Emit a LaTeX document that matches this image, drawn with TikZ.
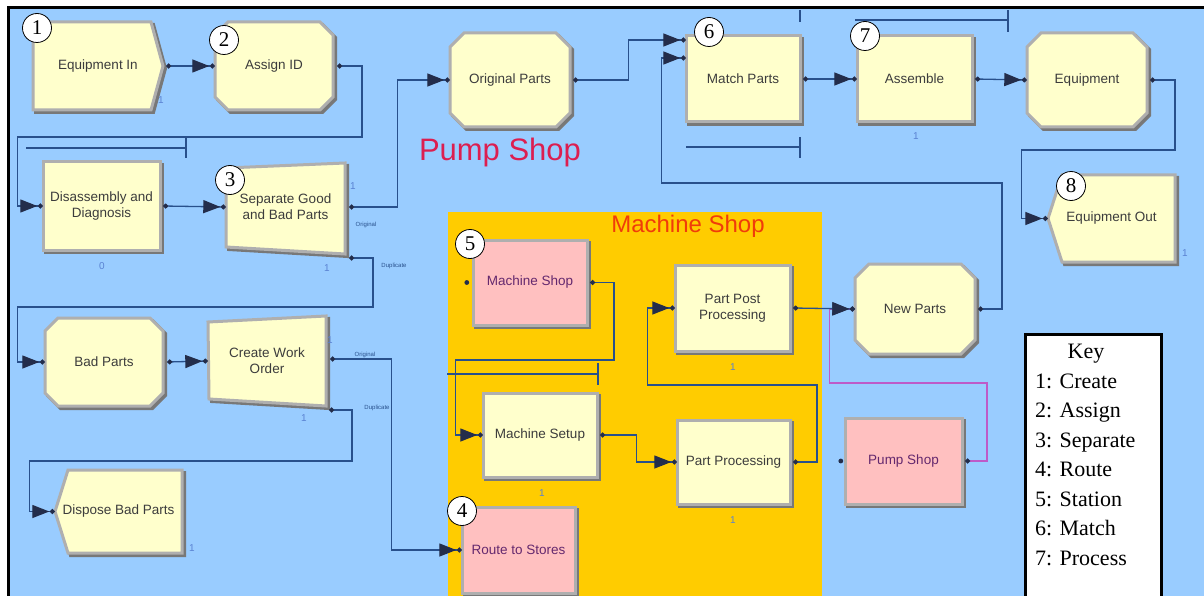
\documentclass[tikz,border=0pt]{standalone}
\usepackage{fontspec}
\setmainfont{Liberation Serif}
\newfontfamily\arena{Liberation Sans}
\usetikzlibrary{arrows.meta,calc}
\definecolor{bgblue}{RGB}{153,204,255}
\definecolor{modyel}{RGB}{255,255,204}
\definecolor{stpink}{RGB}{255,192,192}
\definecolor{bevel}{RGB}{175,175,175}
\definecolor{shdw}{RGB}{120,120,120}
\definecolor{lncol}{RGB}{40,80,140}
\definecolor{arrcol}{RGB}{35,45,75}
\definecolor{txtgray}{RGB}{60,60,60}
\definecolor{txtpurple}{RGB}{100,40,110}
\definecolor{purpline}{RGB}{190,90,200}
\definecolor{msorange}{RGB}{255,204,0}
\definecolor{pumpred}{RGB}{220,30,80}
\definecolor{msred}{RGB}{240,60,10}
\definecolor{cntblue}{RGB}{90,130,210}
\newcommand\Mpoly[2]{\path[shd] #2; \path[#1] #2;}
\begin{document}
\begin{tikzpicture}[x=1pt,y=-1pt,
  shd/.style={fill=shdw, draw=shdw, line width=3pt, line join=miter, shift={(2.5,2.5)}},
  modshape/.style={fill=modyel, draw=bevel, line width=3pt, line join=miter},
  stshape/.style={modshape, fill=stpink},
  mtext/.style={inner sep=0, align=center, text=txtgray, font=\arena\fontsize{13.5}{16}\selectfont},
  sttext/.style={mtext, text=txtpurple},
  conn/.style={draw=lncol, line width=1.3pt,
    arrows={{Circle[length=5pt,color=arrcol]}-{Triangle[length=17pt,width=13pt,color=arrcol,sep=0.5pt] Circle[length=5pt,color=arrcol]}}},
  pconn/.style={conn, draw=purpline},
  queue/.style={draw=lncol, line width=1.3pt},
  numc/.style={circle, draw=black, fill=white, line width=0.8pt, minimum size=29, inner sep=0, font=\fontsize{21}{21}\selectfont},
  cnt/.style={inner sep=0, text=cntblue, font=\arena\fontsize{10}{10}\selectfont},
  tiny/.style={inner sep=0, text=lncol, font=\arena\fontsize{6}{6}\selectfont},
  keyt/.style={inner sep=0, anchor=base west, font=\fontsize{22}{22}\selectfont}]
\clip (0,0) rectangle (1204,596);
\fill[white] (0,0) rectangle (1204,596);
\fill[bgblue] (8,8) rectangle (1204,596);
\draw[black, line width=3pt] (8,600) -- (8,8) -- (1210,8);
% machine shop area
\fill[msorange] (448,212) rectangle (822,600);
\node[inner sep=0, text=pumpred, font=\arena\fontsize{31}{31}\selectfont] (ptitle) at (500,152) {Pump Shop};
\node[inner sep=0, text=msred, font=\arena\fontsize{24}{24}\selectfont] (mtitle) at (688,226) {Machine Shop};
% queue lines
\draw[queue] (26,148) -- (186,148) (186,137) -- (186,158);
\draw[queue] (686,147) -- (800,147) (800,137) -- (800,158);
\draw[queue] (855,20) -- (1008,20) (1008,10) -- (1008,32) (800,10) -- (800,22);
\draw[queue] (447,374) -- (598,374) (598,363) -- (598,385);
% modules
\Mpoly{modshape}{(33,22) -- (151,22) -- (163,66) -- (151,110) -- (33,110) -- cycle}
\node[mtext, minimum width=130, minimum height=88] (eqin) at (98,66) {Equipment In};
\Mpoly{modshape}{(228,22) -- (320,22) -- (333,35) -- (333,97) -- (320,110) -- (228,110) -- (215,97) -- (215,35) -- cycle}
\node[mtext, minimum width=118, minimum height=88] (assign) at (274,66) {Assign ID};
\Mpoly{modshape}{(43,162) rectangle (160,250)}
\node[mtext, minimum width=117, minimum height=88] (disasm) at (101.5,206) {Disassembly and\\Diagnosis};
\Mpoly{modshape}{(226,168) -- (345,163) -- (345,254) -- (226,247) -- cycle}
\node[mtext, minimum width=119, minimum height=86] (sep) at (285.5,207) {Separate Good\\and Bad Parts};
\Mpoly{modshape}{(464,33) -- (556,33) -- (570,47) -- (570,113) -- (556,127) -- (464,127) -- (450,113) -- (450,47) -- cycle}
\node[mtext, minimum width=120, minimum height=94] (orig) at (510,80) {Original Parts};
\Mpoly{modshape}{(686,36) rectangle (800,122)}
\node[mtext, minimum width=114, minimum height=86] (match) at (743,79) {Match Parts};
\Mpoly{modshape}{(857,36) rectangle (972,122)}
\node[mtext, minimum width=115, minimum height=86] (assemble) at (914.5,79) {Assemble};
\Mpoly{modshape}{(1041,33) -- (1133,33) -- (1147,47) -- (1147,113) -- (1133,127) -- (1041,127) -- (1027,113) -- (1027,47) -- cycle}
\node[mtext, minimum width=120, minimum height=94] (equip) at (1087,80) {Equipment};
\Mpoly{modshape}{(1048,218.5) -- (1062,175) -- (1175,175) -- (1175,262) -- (1062,262) -- cycle}
\node[mtext, minimum width=127, minimum height=87] (eqout) at (1111.5,218.5) {Equipment Out};
\Mpoly{modshape}{(58,318) -- (150,318) -- (163,331) -- (163,393) -- (150,406) -- (58,406) -- (45,393) -- (45,331) -- cycle}
\node[mtext, minimum width=118, minimum height=88] (bad) at (104,362) {Bad Parts};
\Mpoly{modshape}{(208,322) -- (326,316) -- (326,406) -- (209,399) -- cycle}
\node[mtext, minimum width=118, minimum height=84] (cwo) at (267,361) {Create Work\\Order};
\Mpoly{modshape}{(55,511.5) -- (68,470) -- (182,470) -- (182,553) -- (68,553) -- cycle}
\node[mtext, minimum width=127, minimum height=83] (dbad) at (118.5,511.5) {Dispose Bad Parts};
\Mpoly{stshape}{(473,240) rectangle (587,325)}
\node[sttext, minimum width=114, minimum height=85] (msst) at (530,282.5) {Machine Shop};
\Mpoly{modshape}{(483,393) rectangle (597,477)}
\node[mtext, minimum width=114, minimum height=84] (setup) at (540,435) {Machine Setup};
\Mpoly{modshape}{(675,265) rectangle (790,351)}
\node[mtext, minimum width=115, minimum height=86] (ppp) at (732.5,308) {Part Post\\Processing};
\Mpoly{modshape}{(677,420) rectangle (790,504)}
\node[mtext, minimum width=113, minimum height=84] (pp) at (733.5,462) {Part Processing};
\Mpoly{modshape}{(869,264) -- (961,264) -- (975,278) -- (975,340) -- (961,354) -- (869,354) -- (855,340) -- (855,278) -- cycle}
\node[mtext, minimum width=120, minimum height=90] (newparts) at (915,309) {New Parts};
\Mpoly{stshape}{(845,418) rectangle (962,504)}
\node[sttext, minimum width=117, minimum height=86] (pumpst) at (903.5,461) {Pump Shop};
\Mpoly{stshape}{(462,507) rectangle (575,593)}
\node[sttext, minimum width=113, minimum height=86] (route) at (518.5,550) {Route to Stores};
% entry-only dots
\fill[arrcol] ($(msst.west)+(-6,0)$) circle (2.4);
\fill[arrcol] ($(pumpst.west)+(-4,0)$) circle (2.4);
% connectors
\coordinate (m1) at ($(match.west)+(0,-39)$);
\coordinate (m2) at ($(match.west)+(0,-21)$);
\draw[conn] ($(eqin.east)+(3,0)$) -- (assign.west);
\draw[conn] ($(assign.east)+(4,0)$) -| (362,137) -| ($(disasm.west)+(-25,0)$) -- (disasm.west);
\draw[conn] ($(disasm.east)+(3,0)$) -- (sep.west);
\draw[conn] ($(sep.east)+(4,0)$) -| ($(orig.west)+(-52,0)$) -- (orig.west);
\draw[conn] ($(sep.east)+(4,51)$) -| (373,307) -| ($(bad.west)+(-27,0)$) -- (bad.west);
\draw[conn] ($(bad.east)+(4,0)$) -- (cwo.west);
\draw[conn] ($(cwo.east)+(4,-2)$) -| ($(route.west)+(-70,0)$) -- (route.west);
\draw[conn] ($(cwo.east)+(3,49)$) -| (352,461) -| ($(dbad.west)+(-25,0)$) -- (dbad.west);
\draw[conn] ($(orig.east)+(3,0)$) -| ($(m1)+(-57,0)$) -- (m1);
\draw[conn] ($(newparts.east)+(3,0)$) -| (1002,183) -| ($(m2)+(-24,0)$) -- (m2);
\draw[conn] ($(match.east)+(3,0)$) -- (assemble.west);
\draw[conn] ($(assemble.east)+(3,0)$) -- (equip.west);
\draw[conn] ($(equip.east)+(3,0)$) -| (1175,150) -| ($(eqout.west)+(-26,0)$) -- (eqout.west);
\draw[conn] ($(msst.east)+(3,0)$) -| (614,360) -| ($(setup.west)+(-27,0)$) -- (setup.west);
\draw[conn] ($(setup.east)+(3,0)$) -| ($(pp.west)+(-40,0)$) -- (pp.west);
\draw[conn] ($(pp.east)+(3,0)$) -| (817,385) -| ($(ppp.west)+(-27,0)$) -- (ppp.west);
\draw[pconn] ($(pumpst.east)+(3,0)$) -| (987,383) -| ($(newparts.west)+(-25,0)$) -- (newparts.west);
\draw[conn] ($(ppp.east)+(3,0)$) -- (newparts.west);
% branch labels
\node[tiny] (lo1) at (366,225) {Original};
\node[tiny] (ld1) at (394,266) {Duplicate};
\node[tiny] (lo2) at (365,355) {Original};
\node[tiny] (ld2) at (377,408) {Duplicate};
% counters
\node[cnt] (k1) at (161,100) {1};
\node[cnt] (k2) at (353,186) {1};
\node[cnt] (k3) at (327,268) {1};
\node[cnt] (k4) at (102,266) {0};
\node[cnt] (k5) at (330,340) {1};
\node[cnt] (k6) at (304,418) {1};
\node[cnt] (k7) at (192,548) {1};
\node[cnt] (k8) at (916,136) {1};
\node[cnt] (k9) at (542,493) {1};
\node[cnt] (k10) at (733,367) {1};
\node[cnt] (k11) at (733,520) {1};
\node[cnt] (k12) at (1185,253) {1};
% number circles
\node[numc] (n1) at (37,28) {1};
\node[numc] (n2) at (224,40) {2};
\node[numc] (n3) at (230,180) {3};
\node[numc] (n4) at (462,511) {4};
\node[numc] (n5) at (470,244) {5};
\node[numc] (n6) at (709,32) {6};
\node[numc] (n7) at (865,36) {7};
\node[numc] (n8) at (1071,186) {8};
% key
\node[draw=black, fill=white, line width=2.5pt, minimum width=136, minimum height=290, anchor=north west, inner sep=0] (key) at (1024,333) {};
\node[inner sep=0, anchor=base, font=\fontsize{22}{22}\selectfont] (keyh) at (1086,358) {Key};
\node[keyt] (kl1) at (1035,388) {1: Create};
\node[keyt] (kl2) at (1035,417.5) {2: Assign};
\node[keyt] (kl3) at (1035,447) {3: Separate};
\node[keyt] (kl4) at (1035,476.5) {4: Route};
\node[keyt] (kl5) at (1035,506) {5: Station};
\node[keyt] (kl6) at (1035,535.5) {6: Match};
\node[keyt] (kl7) at (1035,565) {7: Process};
\end{tikzpicture}
\end{document}
